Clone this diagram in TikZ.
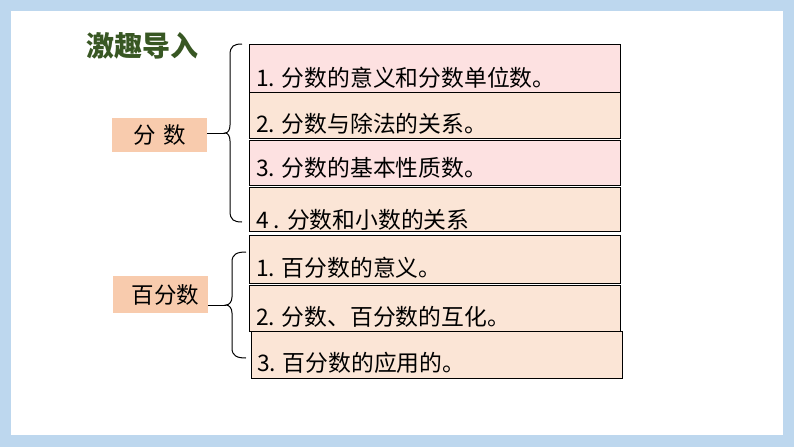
\documentclass[tikz,border=0pt]{standalone}
\usepackage{fontspec}
\setmainfont{Noto Sans CJK SC}

\definecolor{framebl}{HTML}{BDD7EE}
\definecolor{pinkfill}{HTML}{FDE1E1}
\definecolor{peachfill}{HTML}{FBE5D6}
\definecolor{topicfill}{HTML}{F8CBAD}
\definecolor{titlegreen}{HTML}{385723}

\begin{document}
\begin{tikzpicture}[x=1pt, y=-1pt,
  item/.style={draw, line width=1.3pt, anchor=north west, inner sep=0pt, minimum width=371pt},
  itemtext/.style={anchor=base west, inner sep=0pt, font=\fontsize{22.8}{24}\selectfont},
  topic/.style={fill=topicfill, anchor=north west, inner sep=0pt, font=\fontsize{22.5}{24}\selectfont},
  curly/.style={line width=1pt}]
%%% frame
\fill [framebl] (0,0) rectangle (794,447);
\fill [white] (11,11) rectangle (783,435);
\useasboundingbox (0,0) rectangle (794,447);

%%% nodes

% title
\node [font=\fontsize{28}{30}\selectfont\bfseries, text=titlegreen] (title) at (142,46) {激趣导入};

% topic nodes
\node [topic, minimum width=95pt, minimum height=34pt] (fs) at (112,118) {分\hspace{8pt}数};
\node [topic, minimum width=95pt, minimum height=37pt] (bfs) at (113,276) {\hspace{10pt}百分数};

% item boxes, fractions
\node [item, fill=pinkfill, minimum height=48pt] (b1) at (249,44) {};
\node [item, fill=peachfill, minimum height=46pt] (b2) at (249,92) {};
\node [item, fill=pinkfill, minimum height=45pt] (b3) at (249,140) {};
\node [item, fill=peachfill, minimum height=44pt] (b4) at (249,187) {};

% item boxes, percents
\node [item, fill=peachfill, minimum height=48pt] (b5) at (249,235) {};
\node [item, fill=peachfill, minimum height=46pt] (b6) at (249,285) {};
\node [item, fill=peachfill, minimum height=47pt] (b7) at (251,331) {};

% item texts
\node [itemtext] (t1) at (256,86) {1. 分数的意义和分数单位数。};
\node [itemtext] (t2) at (256,132) {2. 分数与除法的关系。};
\node [itemtext] (t3) at (256,176) {3. 分数的基本性质数。};
\node [itemtext] (t4) at (256,228) {4 . 分数和小数的关系};
\node [itemtext] (t5) at (256,276) {1. 百分数的意义。};
\node [itemtext] (t6) at (256,325) {2. 分数、百分数的互化。};
\node [itemtext] (t7) at (257,371) {3. 百分数的应用的。};

% brace ends and tips
\coordinate (fs top) at (242,44);
\coordinate (fs bot) at (242,222);
\coordinate (fs tip) at (225,133);
\coordinate (bfs top) at (246,252);
\coordinate (bfs bot) at (246,358);
\coordinate (bfs tip) at (226,305);

%%% edges

% braces
\draw [curly] (fs top) .. controls (234,44) and (230,46) .. (230,55) -- (230,125)
  .. controls (230,130) and (228,133) .. (fs tip)
  .. controls (228,133) and (230,136) .. (230,141) -- (230,211)
  .. controls (230,220) and (234,222) .. (fs bot);
\draw [curly] (bfs top) .. controls (237,252) and (232,254) .. (232,262) -- (232,297)
  .. controls (232,302) and (229,305) .. (bfs tip)
  .. controls (229,305) and (232,308) .. (232,313) -- (232,348)
  .. controls (232,356) and (237,358) .. (bfs bot);

% topic to brace tip
\draw [line width=1pt] (fs.east |- fs tip) to (fs tip);
\draw [line width=1pt] (bfs.east |- bfs tip) to (bfs tip);
\end{tikzpicture}
\end{document}
